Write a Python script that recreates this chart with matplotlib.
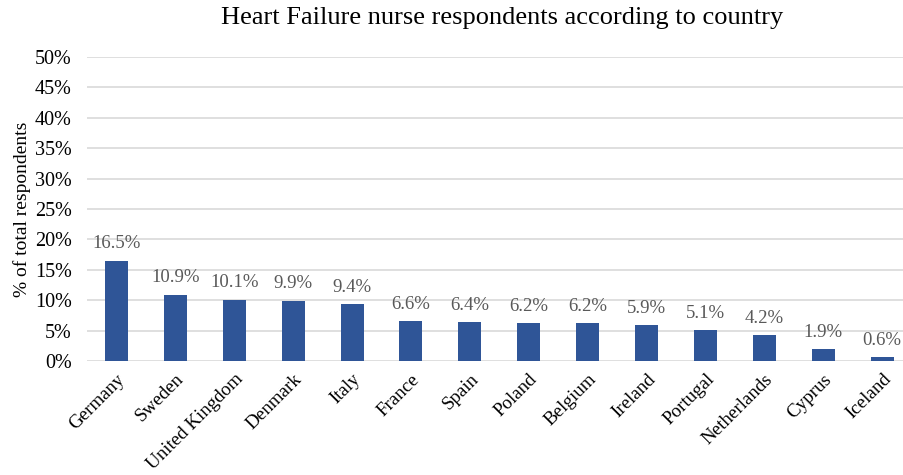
import matplotlib
matplotlib.use("Agg")
import matplotlib.pyplot as plt
from matplotlib.ticker import PercentFormatter

countries = ["Germany", "Sweden", "United Kingdom", "Denmark", "Italy", "France", "Spain",
             "Poland", "Belgium", "Ireland", "Portugal", "Netherlands", "Cyprus", "Iceland"]
values = [16.5, 10.9, 10.1, 9.9, 9.4, 6.6, 6.4, 6.2, 6.2, 5.9, 5.1, 4.2, 1.9, 0.6]
yticks = [0, 5, 10, 15, 20, 25, 30, 35, 40, 45, 50]

plt.rcParams['font.family'] = ['Liberation Serif', 'DejaVu Serif']

fig = plt.figure(figsize=(9.04, 4.75), dpi=100)
ax = fig.add_axes([87/904, 114/475, 1 - 87/904, (361-57)/475])

x = list(range(len(countries)))
bars = ax.bar(x, values, width=0.39, color="#2F5597", zorder=3)
for xi, v in zip(x, values):
    ax.annotate(f"{v:.1f}%", (xi, v), xytext=(0, 6), textcoords="offset points",
                ha="center", va="bottom", fontsize=13.5, color="#595959")

ax.set_xlim(-0.5, 13.37)
ax.set_ylim(0, 50)
ax.set_yticks(yticks)
ax.yaxis.set_major_formatter(PercentFormatter(decimals=0))
ax.grid(axis="y", color="#d9d9d9", linewidth=1.2, zorder=0)
for s in ax.spines.values():
    s.set_visible(False)
ax.tick_params(axis="both", length=0, colors="black")
ax.tick_params(axis="y", pad=11, labelsize=14.5)
ax.set_xticks(x)
ax.set_xticklabels(countries, rotation=45, ha="right", rotation_mode="anchor")
ax.tick_params(axis="x", pad=7, labelsize=13.7)
ax.set_ylabel("% of total respondents", fontsize=14, labelpad=3)
fig.text(502/904, 1 - 18/475, "Heart Failure nurse respondents according to country",
         ha="center", va="center", fontsize=19)

fig.savefig("out.png", dpi=100)
